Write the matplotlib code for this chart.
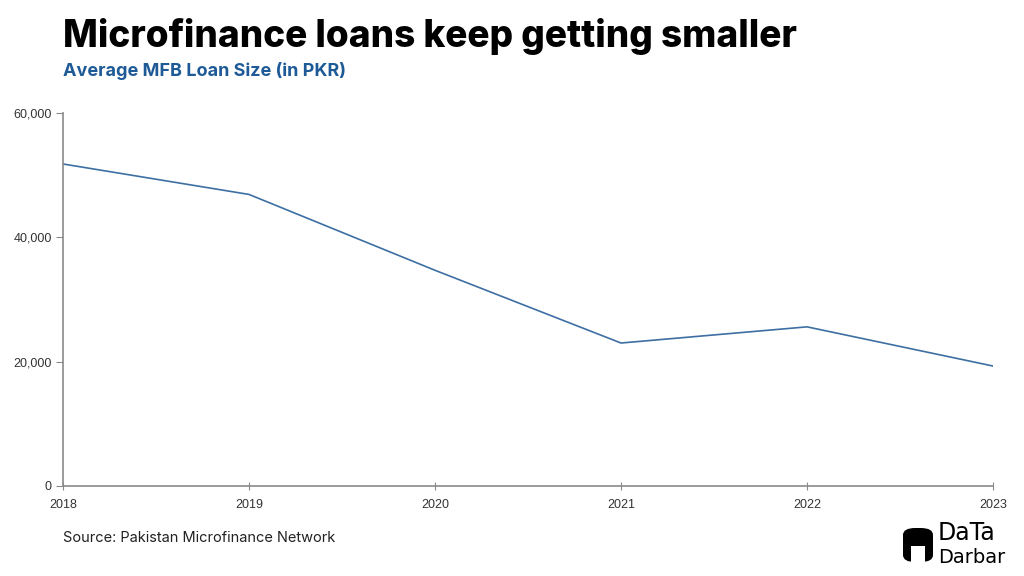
import matplotlib.pyplot as plt
import matplotlib.patches as mpatches
from matplotlib.ticker import FuncFormatter

years = [2018, 2019, 2020, 2021, 2022, 2023]
loan_size = [51800, 46900, 34700, 23000, 25600, 19300]
y_ticks = [0, 20000, 40000, 60000]

plt.rcParams['font.family'] = ['Liberation Sans', 'DejaVu Sans']

fig = plt.figure(figsize=(10.24, 5.76), dpi=100)
ax = fig.add_axes([63 / 1024, 1 - 486 / 576, 930 / 1024, 373 / 576])

ax.plot(years, loan_size, color="#3d6fa3", lw=1.2)
ax.set_xlim(2018, 2023)
ax.set_ylim(0, 60000)
ax.set_xticks(years)
ax.set_yticks(y_ticks)
ax.yaxis.set_major_formatter(FuncFormatter(lambda v, p: f"{int(v):,}"))

for s in ["top", "right"]:
    ax.spines[s].set_visible(False)
for s in ["left", "bottom"]:
    ax.spines[s].set_color("#8a8a8a")
    ax.spines[s].set_linewidth(1.2)
ax.tick_params(axis="y", length=5, color="#8a8a8a", labelsize=9, labelcolor="#333333", pad=3)
ax.tick_params(axis="x", direction="inout", length=6, color="#8a8a8a", labelsize=9, labelcolor="#333333", pad=6)

fig.text(63 / 1024, 1 - 47 / 576, "Microfinance loans keep getting smaller",
         fontsize=26.6, fontweight="heavy", family="Inter", color="black")
fig.text(63 / 1024, 1 - 76 / 576, "Average MFB Loan Size (in PKR)",
         fontsize=13, fontweight="bold", family="Inter", color="#1d5a96")
fig.text(63 / 1024, 1 - 542 / 576, "Source: Pakistan Microfinance Network",
         fontsize=10.5, family="Inter", color="#222222")

# logo
lx, ly = 903 / 1024, 1 - 562 / 576
fig.patches.append(mpatches.FancyBboxPatch((lx, ly), 30 / 1024, 34 / 576,
                   boxstyle="round,pad=0,rounding_size=0.012", transform=fig.transFigure,
                   facecolor="black", edgecolor="none"))
fig.patches.append(mpatches.Rectangle((lx + 8 / 1024, ly), 14 / 1024, 16 / 576,
                   transform=fig.transFigure, facecolor="white", edgecolor="none"))
fig.text(938 / 1024, 1 - 540 / 576, "DaTa", fontsize=17, family="DejaVu Sans", color="black")
fig.text(938 / 1024, 1 - 563 / 576, "Darbar", fontsize=14, family="DejaVu Sans", color="black")

fig.savefig("out.png", dpi=100)
